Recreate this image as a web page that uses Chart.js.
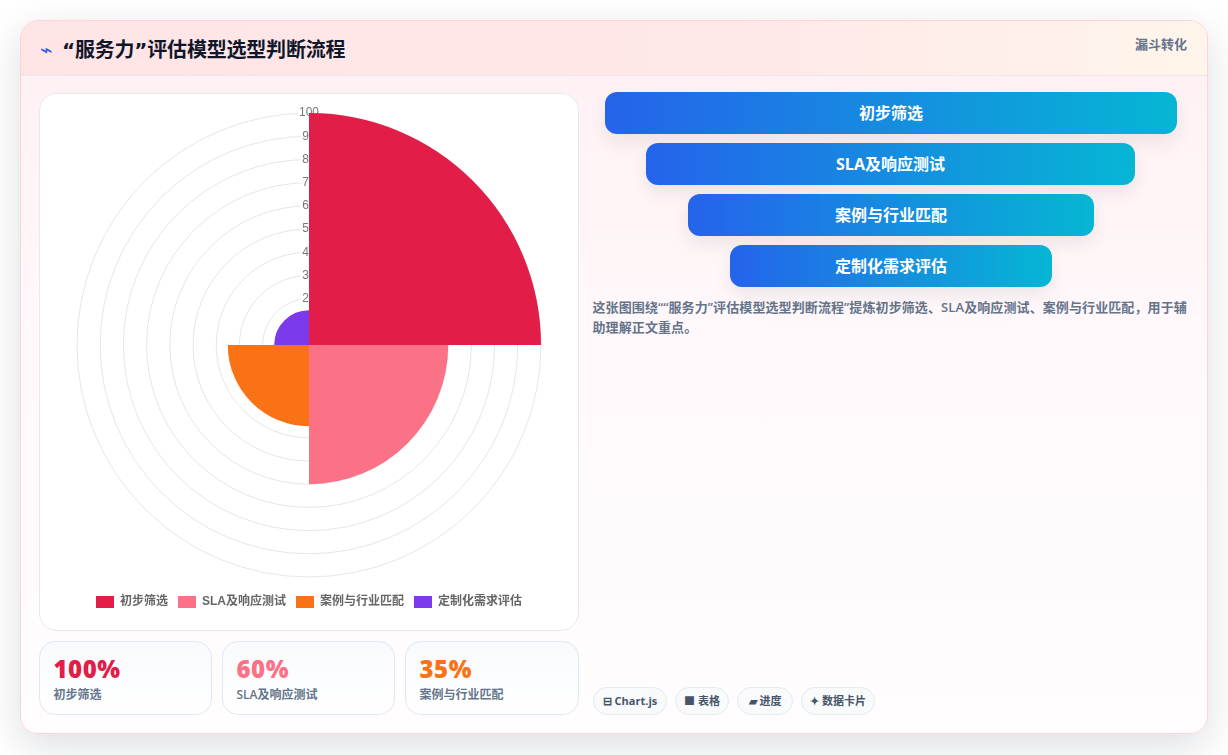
<!DOCTYPE html>
<html lang="zh">
<head>
<meta charset="utf-8">
<title>“服务力”评估模型选型判断流程</title>
<script src="https://cdn.jsdelivr.net/npm/chart.js@4/dist/chart.umd.min.js"></script>
<style>
* { box-sizing: border-box; }
html, body { margin: 0; height: 100%; }
body { width: 1228px; height: 755px; overflow: hidden; background: #fff; font-family: "Open Sans", "Noto Sans CJK SC", sans-serif; color: #64748b; }
.card { position: absolute; left: 20px; top: 20px; width: 1188px; height: 714px; border: 1px solid #fbd5d8; border-radius: 18px; overflow: hidden; background: linear-gradient(180deg, #fff0f2 0%, #fff8fa 45%, #fffdfe 100%); }
.shadow { position: absolute; left: 20px; top: 20px; width: 1188px; height: 714px; border-radius: 18px; box-shadow: 0 12px 40px rgba(15, 23, 42, .14); }
.head { height: 55px; border-bottom: 1px solid #ece6f0; background: linear-gradient(90deg, #ffe4e6, #ffe8e8 60%, #fff5eb); position: relative; }
.head .icon { position: absolute; left: 19px; top: 16px; font-size: 21px; line-height: 24px; color: #2f5fe8; font-weight: 400; }
.head h1 { position: absolute; left: 41px; top: 15px; margin: 0; font-family: "DejaVu Sans", "Noto Sans CJK SC", sans-serif; font-size: 20px; line-height: 28px; font-weight: 700; color: #0f172a; letter-spacing: -0.2px; }
.head .tag { position: absolute; right: 20px; top: 14px; font-size: 13px; line-height: 18px; font-weight: 700; color: #64748b; }
.chartBox { position: absolute; left: 18px; top: 71.5px; width: 540px; height: 538px; background: #fff; border: 1px solid #e6e9f0; border-radius: 18px; }
.chartBox div { position: absolute; left: 12.5px; top: 11px; width: 512px; height: 513px; }
.stat { position: absolute; top: 620px; height: 74px; border: 1px solid #dfe8f3; border-radius: 16px; background: linear-gradient(180deg, #f8fafd, #fff); padding: 12px 13.5px; }
.stat b { display: block; font-size: 24px; line-height: 30px; font-weight: 800; letter-spacing: 0.5px; }
.stat span { display: block; font-size: 12px; line-height: 16px; font-weight: 600; margin-top: 3px; }
.step { position: absolute; height: 42px; border-radius: 12px; background: linear-gradient(90deg, #2563eb, #06b6d4); color: #fff; font-size: 16px; font-weight: 700; line-height: 42px; text-align: center; box-shadow: 0 8px 18px rgba(15, 23, 42, .08); }
.note { position: absolute; left: 571.5px; top: 276px; width: 600px; margin: 0; font-size: 13px; line-height: 20px; font-weight: 600; color: #64748b; letter-spacing: 0.1px; }
.chip { position: absolute; top: 666px; height: 28px; border: 1px solid #e6eaf1; border-radius: 14px; background: #f8fafc; font-size: 11px; line-height: 26px; font-weight: 700; color: #475569; text-align: center; white-space: nowrap; }
</style>
</head>
<body>
<div class="shadow"></div>
<div class="card" id="card">
  <div class="head">
    <span class="icon">⌁</span>
    <h1>“服务力”评估模型选型判断流程</h1>
    <span class="tag">漏斗转化</span>
  </div>
  <div class="chartBox"><div><canvas id="myChart"></canvas></div></div>
  <p class="note">这张图围绕““服务力”评估模型选型判断流程”提炼初步筛选、SLA及响应测试、案例与行业匹配，用于辅助理解正文重点。</p>
</div>
<script>
let categorias = ['初步筛选', 'SLA及响应测试', '案例与行业匹配', '定制化需求评估'];
let valores = [100, 60, 35, 15];
let colores = ['#e11d48', '#fb7185', '#f97316', '#7c3aed'];
let etiquetasStat = ['100%', '60%', '35%'];
let chips = ['⊟ Chart.js', '■ 表格', '▰ 进度', '✦ 数据卡片'];

let card = document.getElementById('card');

// tarjetas de abajo
let statLeft = [18, 201, 384];
let statWidth = [173, 173, 174];
for (let i = 0; i < etiquetasStat.length; i++) {
    card.innerHTML += '<div class="stat" style="left:' + statLeft[i] + 'px;width:' + statWidth[i] + 'px"><b style="color:' + colores[i] + '">' + etiquetasStat[i] + '</b><span>' + categorias[i] + '</span></div>';
}

// embudo
let stepLeft = [584, 625, 667, 709];
let stepWidth = [572, 489, 406, 322];
for (let i = 0; i < categorias.length; i++) {
    card.innerHTML += '<div class="step" style="left:' + stepLeft[i] + 'px;top:' + (71 + i * 51) + 'px;width:' + stepWidth[i] + 'px">' + categorias[i] + '</div>';
}

let chipLeft = [572, 654, 716, 780];
let chipWidth = [74, 54, 56, 74];
for (let i = 0; i < chips.length; i++) {
    card.innerHTML += '<div class="chip" style="left:' + chipLeft[i] + 'px;width:' + chipWidth[i] + 'px">' + chips[i] + '</div>';
}

Chart.defaults.font.family = '"Liberation Sans", "Noto Sans CJK SC", sans-serif';

let myChart = new Chart(document.getElementById('myChart'), {
    type: 'polarArea',
    data: {
        labels: categorias,
        datasets: [{
            data: valores,
            backgroundColor: colores,
            borderColor: '#fff',
            borderWidth: 0
        }]
    },
    options: {
        responsive: true,
        maintainAspectRatio: false,
        animation: false,
        scales: {
            r: {
                min: 0,
                max: 100,
                ticks: { stepSize: 10, color: '#777', font: { size: 12 } },
                grid: { color: 'rgba(0,0,0,0.1)' }
            }
        },
        plugins: {
            legend: {
                position: 'bottom',
                labels: { color: '#666', font: { size: 12, weight: '600' }, boxWidth: 18, boxHeight: 12 }
            }
        }
    }
});
</script>
</body>
</html>
